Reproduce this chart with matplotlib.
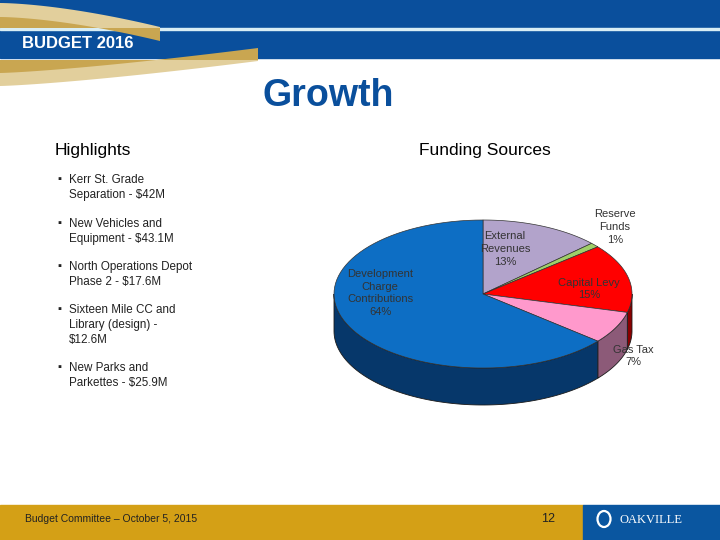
import numpy as np
import matplotlib
matplotlib.use("Agg")
import matplotlib.pyplot as plt
from matplotlib.patches import Polygon, Rectangle, Ellipse

plt.rcParams["font.family"] = ["Liberation Sans", "DejaVu Sans"]

# funding sources, clockwise from 12 o'clock
sources = ["External\nRevenues", "Reserve\nFunds", "Capital Levy", "Gas Tax",
           "Development\nCharge\nContributions"]
shares = [13, 1, 15, 7, 64]
top_colors = ["#b2a3cb", "#9fcf68", "#ff0000", "#ff99cc", "#0d6ec4"]
side_colors = ["#6e6284", "#5f7e3e", "#8a0000", "#8c5a78", "#06376a"]

highlights = [
    "Kerr St. Grade\nSeparation - $42M",
    "New Vehicles and\nEquipment - $43.1M",
    "North Operations Depot\nPhase 2 - $17.6M",
    "Sixteen Mile CC and\nLibrary (design) -\n$12.6M",
    "New Parks and\nParkettes - $25.9M",
]

BLUE = "#0a4f9c"
GOLD = "#d4a016"

fig = plt.figure(figsize=(7.2, 5.4), dpi=100)
ax = fig.add_axes([0, 0, 1, 1])
ax.set_xlim(0, 720)
ax.set_ylim(540, 0)
ax.axis("off")

# header bands
ax.add_patch(Rectangle((0, 0), 720, 28, color=BLUE, zorder=1))
ax.add_patch(Rectangle((0, 30), 720, 28, color=BLUE, zorder=1))
ax.add_patch(Rectangle((0, 28), 720, 2, color="#d9eef5", zorder=1))

# gold swooshes
xs = np.linspace(0, 160, 50)
top_edge = 3 + 24 * (xs / 160) ** 1.6
ax.add_patch(Polygon(np.column_stack([np.r_[xs, 160, 0], np.r_[top_edge, 28, 28]]),
                     color="#e2cf9c", lw=0, zorder=2))
ax.add_patch(Polygon(np.column_stack([np.r_[xs, 160, 0], np.r_[top_edge + 14, 28, 28]]),
                     color="#c9a651", lw=0, zorder=2))
xs2 = np.linspace(0, 258, 60)
low_edge = 86 - 25 * (xs2 / 258) ** 1.3
ax.add_patch(Polygon(np.column_stack([np.r_[xs2, xs2[::-1]], np.r_[np.full(60, 60), low_edge[::-1]]]),
                     color="#e2cf9c", lw=0, zorder=2))
ax.add_patch(Polygon(np.column_stack([np.r_[xs2, xs2[::-1]], np.r_[np.full(60, 60), (low_edge - 13)[::-1]]]),
                     color="#c9a651", lw=0, zorder=2))

ax.text(22, 44, "BUDGET 2016", color="white", fontsize=12, fontweight="bold",
        va="center", ha="left", zorder=3)
ax.text(328, 96, "Growth", color=BLUE, fontsize=27, fontweight="bold",
        va="center", ha="center", zorder=3)

# highlights
ax.text(55, 151, "Highlights", fontsize=12.5, va="center", ha="left")
ax.text(485, 150, "Funding Sources", fontsize=12.5, va="center", ha="center")
starts = [179, 223, 266, 309, 367]
for y, item in zip(starts, highlights):
    ax.text(57, y, "\u25aa", fontsize=8, va="center", ha="left", color="#222222")
    ax.text(69, y - 5, item, fontsize=8.4, va="top", ha="left", color="#222222",
            linespacing=1.32)

# 3d pie
cx, cy, rx, ry, depth = 483, 294, 149, 74, 37
total = sum(shares)
bounds = 90 - 360 * np.cumsum([0] + shares) / total


def arc(a, b, n=80, dy=0):
    t = np.radians(np.linspace(a, b, n))
    return np.column_stack([cx + rx * np.cos(t), cy - ry * np.sin(t) + dy])


# sides (front half only)
for i in range(len(shares)):
    hi, lo = bounds[i], bounds[i + 1]
    for k in (0, -360):
        a, b = max(lo, -180 + k), min(hi, 0 + k)
        if b > a:
            top = arc(a, b)
            bot = arc(b, a, dy=depth)
            ax.add_patch(Polygon(np.vstack([top, bot]), closed=True,
                                 facecolor=side_colors[i], edgecolor="#1a1a1a",
                                 lw=0.6, zorder=4))

# top faces
for i in range(len(shares)):
    pts = np.vstack([[cx, cy], arc(bounds[i + 1], bounds[i])])
    ax.add_patch(Polygon(pts, closed=True, facecolor=top_colors[i],
                         edgecolor="#333333", lw=0.5, zorder=5))

label_pos = [(505, 249), (615, 227), (589, 289), (633, 356), (380, 293)]
for (lx, ly), name, val in zip(label_pos, sources, shares):
    ax.text(lx, ly, f"{name}\n{val}%", fontsize=8, ha="center", va="center",
            color="#333333", linespacing=1.32, zorder=6)

# footer
ax.add_patch(Rectangle((0, 505), 583, 35, color=GOLD, zorder=1))
ax.add_patch(Rectangle((583, 505), 137, 35, color="#0a56a0", zorder=1))
ax.text(25, 519, "Budget Committee \u2013 October 5, 2015", fontsize=7.5,
        va="center", ha="left", color="#222222")
ax.text(548, 519, "12", fontsize=9, va="center", ha="center", color="#222222")
ax.add_patch(Ellipse((604, 519), 13, 16, fill=False, ec="white", lw=1.6, zorder=3))
ax.text(619, 520, "OAKVILLE", fontsize=9, family="Liberation Serif", color="white",
        va="center", ha="left", zorder=3)

fig.savefig("out.png", dpi=100)
